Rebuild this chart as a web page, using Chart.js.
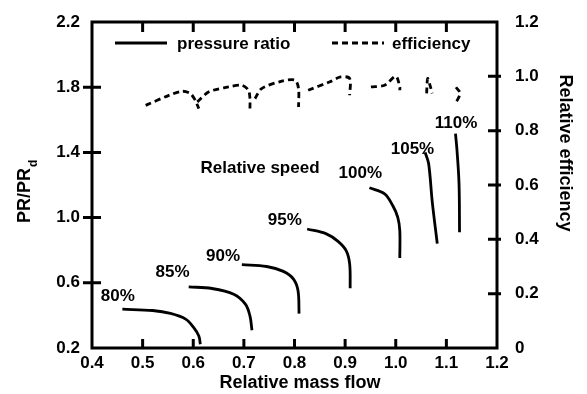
<!DOCTYPE html>
<html>
<head>
<meta charset="utf-8">
<script src="https://cdn.jsdelivr.net/npm/chart.js@4.4.1/dist/chart.umd.min.js"></script>
<style>
  html, body { margin: 0; padding: 0; background: #fff; }
  #wrap { width: 587px; height: 394px; }
</style>
</head>
<body>
<div id="wrap"><canvas id="compressorMap" width="587" height="394"></canvas></div>
<script>
// -- DATA --
const massTicks = [0.4, 0.5, 0.6, 0.7, 0.8, 0.9, 1.0, 1.1, 1.2];
const prTicks = [0.2, 0.6, 1.0, 1.4, 1.8, 2.2];
const effTicks = [0, 0.2, 0.4, 0.6, 0.8, 1.0, 1.2];

const speedLabels = ["80%", "85%", "90%", "95%", "100%", "105%", "110%"];

// pressure ratio lines, [relative mass flow, PR/PRd]
const pr80 = [[0.460, 0.438], [0.520, 0.430], [0.555, 0.412], [0.585, 0.377], [0.601, 0.325], [0.611, 0.274], [0.614, 0.223]];
const pr85 = [[0.591, 0.575], [0.637, 0.565], [0.680, 0.530], [0.703, 0.469], [0.712, 0.397], [0.716, 0.309]];
const pr90 = [[0.696, 0.711], [0.745, 0.700], [0.778, 0.670], [0.798, 0.623], [0.807, 0.551], [0.809, 0.411]];
const pr95 = [[0.825, 0.930], [0.863, 0.900], [0.886, 0.854], [0.902, 0.797], [0.909, 0.715], [0.910, 0.567]];
const pr100 = [[0.948, 1.183], [0.978, 1.146], [0.994, 1.074], [1.004, 1.002], [1.008, 0.920], [1.008, 0.752]];
const pr105 = [[1.058, 1.400], [1.065, 1.330], [1.072, 1.100], [1.082, 0.840]];
const pr110 = [[1.118, 1.515], [1.121, 1.412], [1.125, 1.207], [1.126, 0.910]];

// efficiency lines, [relative mass flow, relative efficiency]
const eff80 = [[0.506, 0.893], [0.552, 0.930], [0.578, 0.945], [0.594, 0.937], [0.604, 0.912], [0.611, 0.881]];
const eff85 = [[0.608, 0.906], [0.631, 0.943], [0.670, 0.961], [0.696, 0.967], [0.709, 0.949], [0.712, 0.918], [0.712, 0.881]];
const eff90 = [[0.722, 0.918], [0.735, 0.955], [0.775, 0.982], [0.801, 0.986], [0.808, 0.955], [0.808, 0.887]];
const eff95 = [[0.827, 0.949], [0.870, 0.980], [0.891, 0.998], [0.909, 0.992], [0.909, 0.930]];
const eff100 = [[0.951, 0.961], [0.978, 0.967], [1.000, 1.000], [1.008, 0.961], [1.008, 0.949]];
const eff105 = [[1.061, 0.937], [1.063, 0.992], [1.068, 0.965], [1.072, 0.937]];
const eff110 = [[1.119, 0.960], [1.127, 0.937], [1.118, 0.900]];

const prLines = [pr80, pr85, pr90, pr95, pr100, pr105, pr110];
const effLines = [eff80, eff85, eff90, eff95, eff100, eff105, eff110];

// where the speed labels sit, in data units (mass flow, PR/PRd)
const labelFlow = [0.451, 0.559, 0.659, 0.781, 0.930, 1.033, 1.119];
const labelPR = [0.520, 0.662, 0.760, 0.982, 1.271, 1.418, 1.578];

const FONT = "'Liberation Sans', Arial, Helvetica, sans-serif";

document.addEventListener("DOMContentLoaded", function () {
  const toXY = (pts) => pts.map((p) => ({ x: p[0], y: p[1] }));

  const datasets = [];
  prLines.forEach((line, i) => {
    datasets.push({
      label: "pressure ratio " + speedLabels[i],
      data: toXY(line),
      yAxisID: "y",
      borderColor: "#000",
      borderWidth: 2.8,
      pointRadius: 0,
      tension: 0.35,
      fill: false,
    });
  });
  effLines.forEach((line, i) => {
    datasets.push({
      label: "efficiency " + speedLabels[i],
      data: toXY(line),
      yAxisID: "y1",
      borderColor: "#000",
      borderWidth: 2.8,
      borderDash: [6, 4],
      pointRadius: 0,
      tension: 0.3,
      fill: false,
    });
  });

  const setTicks = (vals) => (scale) => {
    scale.ticks = vals.map((v) => ({ value: v }));
  };

  // frame, tick marks, titles, legend and speed labels
  const decorations = {
    id: "decorations",
    afterDraw(chart) {
      const ctx = chart.ctx;
      const a = chart.chartArea;
      const x = chart.scales.x, y = chart.scales.y, y1 = chart.scales.y1;
      ctx.save();
      ctx.strokeStyle = "#000";
      ctx.fillStyle = "#000";
      ctx.lineWidth = 3;
      ctx.setLineDash([]);
      ctx.strokeRect(a.left, a.top, a.right - a.left, a.bottom - a.top);

      ctx.beginPath();
      massTicks.slice(1, -1).forEach((v) => {
        const px = x.getPixelForValue(v);
        ctx.moveTo(px, a.bottom); ctx.lineTo(px, a.bottom - 9);
        ctx.moveTo(px, a.top); ctx.lineTo(px, a.top + 10);
      });
      prTicks.slice(1, -1).forEach((v) => {
        const py = y.getPixelForValue(v);
        ctx.moveTo(a.left - 9, py); ctx.lineTo(a.left + 9, py);
      });
      effTicks.slice(1, -1).forEach((v) => {
        const py = y1.getPixelForValue(v);
        ctx.moveTo(a.right - 9, py); ctx.lineTo(a.right + 4, py);
      });
      ctx.stroke();

      // axis titles
      ctx.font = "bold 18px " + FONT;
      ctx.textAlign = "center";
      ctx.textBaseline = "middle";
      ctx.fillText("Relative mass flow", 300, 383);

      ctx.save();
      ctx.translate(25, 189);
      ctx.rotate(-Math.PI / 2);
      ctx.textAlign = "left";
      ctx.fillText("PR/PR", -34, 0);
      const w = ctx.measureText("PR/PR").width;
      ctx.font = "bold 12px " + FONT;
      ctx.fillText("d", -34 + w + 1, 9);
      ctx.restore();

      ctx.save();
      ctx.font = "bold 18px " + FONT;
      ctx.translate(565, 153);
      ctx.rotate(Math.PI / 2);
      ctx.textAlign = "center";
      ctx.fillText("Relative efficiency", 0, 0);
      ctx.restore();

      // legend
      ctx.lineWidth = 2.8;
      ctx.beginPath();
      ctx.moveTo(115, 43); ctx.lineTo(167, 43);
      ctx.stroke();
      ctx.setLineDash([6, 4]);
      ctx.beginPath();
      ctx.moveTo(332, 43); ctx.lineTo(384, 43);
      ctx.stroke();
      ctx.setLineDash([]);
      ctx.font = "bold 17px " + FONT;
      ctx.textAlign = "left";
      ctx.fillText("pressure ratio", 177, 44);
      ctx.fillText("efficiency", 392, 44);

      // speed labels
      ctx.font = "bold 17px " + FONT;
      ctx.textAlign = "center";
      speedLabels.forEach((t, i) => {
        ctx.fillText(t, x.getPixelForValue(labelFlow[i]), y.getPixelForValue(labelPR[i]));
      });
      ctx.fillText("Relative speed", 260, 168);
      ctx.restore();
    },
  };

  const tickFont = { family: FONT, size: 17, weight: "bold" };

  new Chart(document.getElementById("compressorMap"), {
    type: "line",
    data: { datasets: datasets },
    options: {
      responsive: false,
      animation: false,
      layout: { padding: { top: 22, left: 0, right: 0, bottom: 0 } },
      plugins: { legend: { display: false }, tooltip: { enabled: false } },
      scales: {
        x: {
          type: "linear",
          min: 0.4,
          max: 1.2,
          afterBuildTicks: setTicks(massTicks),
          afterFit: (s) => { s.height = 46; },
          grid: { display: false },
          border: { display: false },
          ticks: {
            color: "#000",
            font: tickFont,
            padding: -3,
            maxRotation: 0,
            callback: (v) => Number(v).toFixed(1),
          },
        },
        y: {
          type: "linear",
          position: "left",
          min: 0.2,
          max: 2.2,
          afterBuildTicks: setTicks(prTicks),
          afterFit: (s) => { s.width = 92; },
          grid: { display: false },
          border: { display: false },
          ticks: {
            color: "#000",
            font: tickFont,
            padding: 4,
            callback: (v) => Number(v).toFixed(1),
          },
        },
        y1: {
          type: "linear",
          position: "right",
          min: 0,
          max: 1.2,
          afterBuildTicks: setTicks(effTicks),
          afterFit: (s) => { s.width = 90; },
          grid: { display: false },
          border: { display: false },
          ticks: {
            color: "#000",
            font: tickFont,
            padding: 10,
            callback: (v) => (v === 0 ? "0" : Number(v).toFixed(1)),
          },
        },
      },
    },
    plugins: [decorations],
  });
});
</script>
</body>
</html>
